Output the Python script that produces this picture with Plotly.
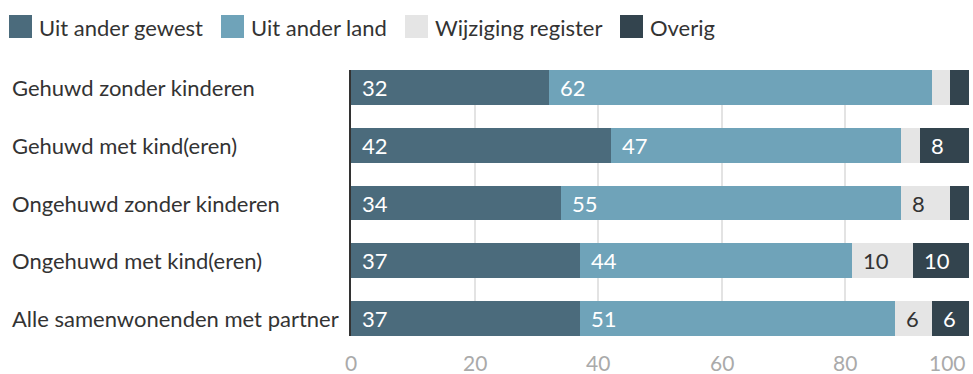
import plotly.graph_objects as go

# Categories (top to bottom) and series values in percent
categories = [
    "Gehuwd zonder kinderen",
    "Gehuwd met kind(eren)",
    "Ongehuwd zonder kinderen",
    "Ongehuwd met kind(eren)",
    "Alle samenwonenden met partner",
]
series_names = ["Uit ander gewest", "Uit ander land", "Wijziging register", "Overig"]
uit_ander_gewest = [32, 42, 34, 37, 37]
uit_ander_land = [62, 47, 55, 44, 51]
wijziging_register = [3, 3, 8, 10, 6]
overig = [3, 8, 3, 10, 6]
x_ticks = [0, 20, 40, 60, 80, 100]

series_values = [uit_ander_gewest, uit_ander_land, wijziging_register, overig]
colors = ["#4b6b7c", "#6fa3b9", "#e5e5e5", "#33444e"]
label_colors = ["#ffffff", "#ffffff", "#333333", "#ffffff"]
FONT = "Lato, 'Open Sans', sans-serif"

# Page geometry (pixels)
W, H = 973, 374
ML, MR, MT, MB = 351, 4, 70, 38
PW, PH = W - ML - MR, H - MT - MB


def px_x(px):
    return (px - ML) / PW


def px_y(py):
    return (H - MB - py) / PH


fig = go.Figure()
for name, vals, col in zip(series_names, series_values, colors):
    fig.add_trace(go.Bar(
        x=vals, y=categories, orientation="h", name=name,
        marker=dict(color=col, line=dict(width=0)),
        width=0.6, showlegend=False, hoverinfo="x+name",
    ))

annotations = []
# Value labels at the start of each segment (small segments unlabeled)
for ci, cat in enumerate(categories):
    start = 0
    for si, vals in enumerate(series_values):
        v = vals[ci]
        if v >= 5:
            annotations.append(dict(
                x=start, y=cat, xref="x", yref="y", text=str(v),
                xanchor="left", yanchor="middle", xshift=9, showarrow=False,
                font=dict(family=FONT, size=22, color=label_colors[si]),
            ))
        start += v

# Category labels, left-aligned
for cat in categories:
    annotations.append(dict(
        x=px_x(10), y=cat, xref="paper", yref="y", text=cat,
        xanchor="left", yanchor="middle", showarrow=False,
        font=dict(family=FONT, size=22, color="#333333"),
    ))

# X tick labels (last one kept inside the page)
for t in x_ticks:
    annotations.append(dict(
        x=t, y=px_y(362), xref="x", yref="paper", text=str(t),
        xanchor="right" if t == x_ticks[-1] else "center", yanchor="middle",
        xshift=-1 if t == x_ticks[-1] else 0, showarrow=False,
        font=dict(family=FONT, size=21, color="#aaaaaa"),
    ))

# Legend row
shapes = []
legend_x = [9, 221, 405, 620]
for name, col, lx in zip(series_names, colors, legend_x):
    shapes.append(dict(
        type="rect", xref="paper", yref="paper",
        x0=px_x(lx), x1=px_x(lx + 23), y0=px_y(38), y1=px_y(15),
        fillcolor=col, line=dict(width=0),
    ))
    annotations.append(dict(
        x=px_x(lx + 28), y=px_y(27), xref="paper", yref="paper", text=name,
        xanchor="left", yanchor="middle", showarrow=False,
        font=dict(family=FONT, size=22, color="#333333"),
    ))

fig.update_layout(
    barmode="stack",
    width=W, height=H,
    margin=dict(l=ML, r=MR, t=MT, b=MB, pad=0),
    paper_bgcolor="white", plot_bgcolor="white",
    xaxis=dict(range=[0, 100], tickvals=x_ticks[1:], showticklabels=False,
               showgrid=True, gridcolor="#e3e3e3", gridwidth=2,
               zeroline=False, showline=False, fixedrange=True),
    yaxis=dict(type="category", categoryorder="array", categoryarray=categories,
               range=[4.3, -0.3], showticklabels=False, showgrid=False,
               showline=True, linecolor="#333333", linewidth=2,
               zeroline=False, ticks="", fixedrange=True),
    annotations=annotations, shapes=shapes,
    bargap=0.4,
)

fig.write_html("out.html")
